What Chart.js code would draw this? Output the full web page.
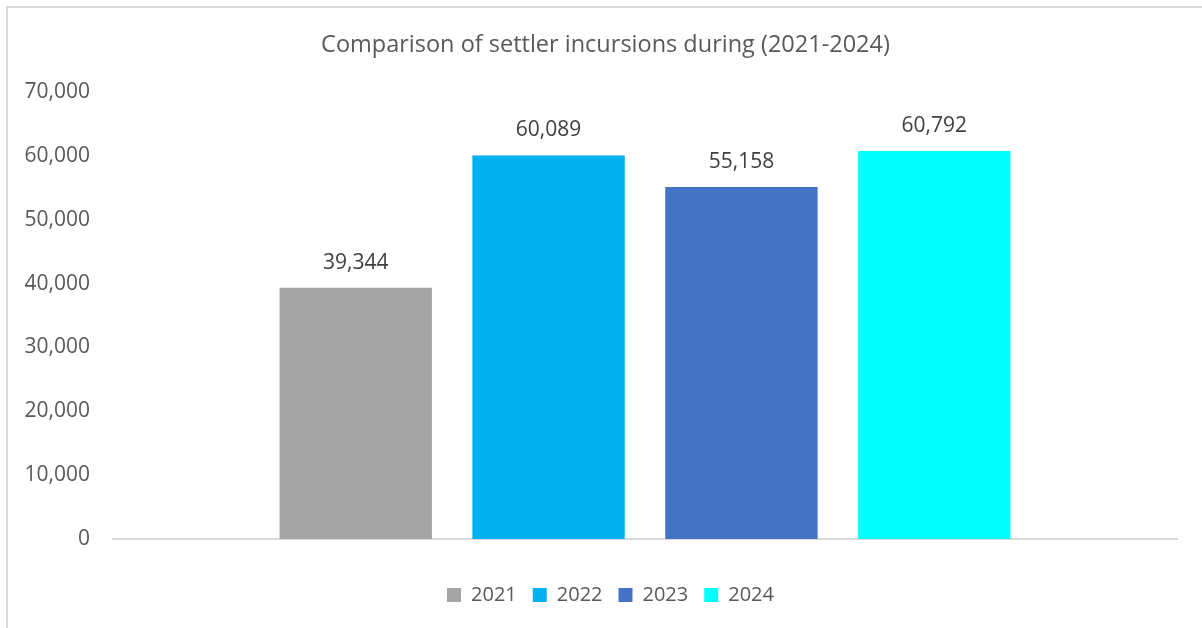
<!DOCTYPE html>
<html>
<head>
<meta charset="utf-8">
<title>Settler incursions 2021-2024</title>
<script src="https://cdn.jsdelivr.net/npm/chart.js@4"></script>
<style>
  html, body { margin: 0; padding: 0; background: #fff; overflow: hidden; }
  #frame {
    position: absolute; left: 6px; top: 6px;
    width: 1196px; height: 622px;
    border-left: 2px solid #d9d9d9; border-top: 2px solid #d9d9d9;
  }
  #wrap { position: relative; width: 1194px; height: 620px; }
</style>
</head>
<body>
<div id="frame"><div id="wrap"><canvas id="chart"></canvas></div></div>
<script>
const years = ["2021", "2022", "2023", "2024"];
const incursions = [39344, 60089, 55158, 60792];
const barColors = ["#a5a5a5", "#00b0f0", "#4472c4", "#00ffff"];
const yTicks = [0, 10000, 20000, 30000, 40000, 50000, 60000, 70000];

const FONT = "'Open Sans', 'DejaVu Sans', sans-serif";

// one dataset per year so every bar gets its own legend entry
const datasets = years.map((y, i) => ({
  label: y,
  data: [incursions[i]],
  backgroundColor: barColors[i],
  borderWidth: 0,
  categoryPercentage: 0.725,
  barPercentage: 0.79
}));

// writes the value above each bar
const valueLabels = {
  id: "valueLabels",
  afterDatasetsDraw(chart) {
    const ctx = chart.ctx;
    ctx.save();
    ctx.font = "21px " + FONT;
    ctx.fillStyle = "#404040";
    ctx.textAlign = "center";
    ctx.textBaseline = "middle";
    chart.data.datasets.forEach((ds, i) => {
      chart.getDatasetMeta(i).data.forEach((bar, j) => {
        ctx.fillText(ds.data[j].toLocaleString("en-US"), bar.x, bar.y - 25);
      });
    });
    ctx.restore();
  }
};

// title and legend sit a bit right of the canvas centre
const nudge = {
  id: "nudge",
  afterLayout(chart) {
    const t = chart.titleBlock, l = chart.legend;
    if (t) { t.left += 13; t.right += 13; }
    if (l) { l.left += 18; l.right += 18; }
  }
};

new Chart(document.getElementById("chart"), {
  type: "bar",
  data: { labels: [""], datasets },
  plugins: [valueLabels, nudge],
  options: {
    responsive: true,
    maintainAspectRatio: false,
    animation: false,
    layout: { padding: { left: 0, right: 25, top: 0, bottom: 13 } },
    plugins: {
      tooltip: { enabled: false },
      title: {
        display: true,
        text: "Comparison of settler incursions during (2021-2024)",
        color: "#595959",
        font: { family: FONT, size: 23.5, weight: "normal" },
        padding: { top: 23, bottom: 33 }
      },
      legend: {
        position: "bottom",
        labels: {
          color: "#595959",
          font: { family: FONT, size: 20 },
          boxWidth: 14,
          boxHeight: 14,
          padding: 16
        }
      }
    },
    scales: {
      x: {
        grid: { display: false },
        border: { color: "#d9d9d9", width: 2 },
        ticks: { display: false },
        afterFit(s) { s.height = 30; }
      },
      y: {
        min: 0,
        max: 70000,
        grid: { display: false },
        border: { display: false },
        afterBuildTicks(s) { s.ticks = yTicks.map(v => ({ value: v })); },
        afterFit(s) { s.width = 105; },
        ticks: {
          color: "#595959",
          padding: 15,
          font: { family: FONT, size: 21 },
          callback: v => v.toLocaleString("en-US")
        }
      }
    }
  }
});
</script>
</body>
</html>
